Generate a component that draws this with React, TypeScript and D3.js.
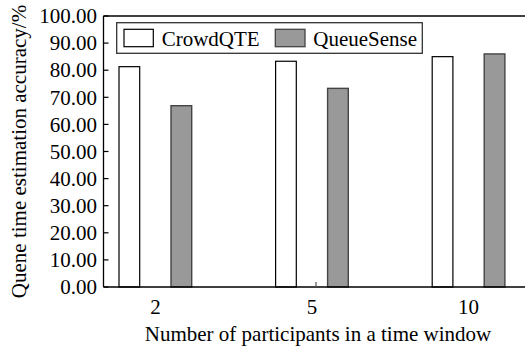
import React from "react";
import * as d3 from "d3";

const categories = ["2", "5", "10"];
const crowdQTE = [81.3, 83.3, 85.0];
const queueSense = [66.9, 73.3, 86.0];
const yTicks = [0, 10, 20, 30, 40, 50, 60, 70, 80, 90, 100];

const W = 525;
const H = 347;
const FONT = "'Liberation Serif', 'Times New Roman', serif";

export default function App() {
  const left = 103.5;
  const top = 16;
  const bottom = 287;

  const x = d3.scaleBand().domain(categories).range([77.1, 546.9]).paddingInner(0);
  const y = d3.scaleLinear().domain([0, 100]).range([bottom, top]);
  const barW = 20.7;
  const cx = (c: string) => (x(c) as number) + x.bandwidth() / 2;

  return (
    <svg
      width={W}
      height={H}
      style={{ position: "absolute", left: 0, top: 0, background: "#fff" }}
      fontFamily={FONT}
    >
      {/* bars */}
      {categories.map((c, i) => (
        <g key={c}>
          <rect
            x={cx(c) - 36.4}
            y={y(crowdQTE[i])}
            width={barW}
            height={bottom - y(crowdQTE[i])}
            fill="#fff"
            stroke="#000"
            strokeWidth={1.2}
          />
          <rect
            x={cx(c) + 15.6}
            y={y(queueSense[i])}
            width={barW}
            height={bottom - y(queueSense[i])}
            fill="#999"
            stroke="#444"
            strokeWidth={1.4}
          />
        </g>
      ))}

      {/* frame */}
      <line x1={left} x2={W + 5} y1={top} y2={top} stroke="#000" strokeWidth={1.3} />
      <line x1={left} x2={W + 5} y1={bottom} y2={bottom} stroke="#000" strokeWidth={1.3} />
      <line x1={left} x2={left} y1={top} y2={bottom} stroke="#000" strokeWidth={1.3} />

      {/* y ticks */}
      {yTicks.map((t) => (
        <g key={t}>
          <line x1={left} x2={left + 5} y1={y(t)} y2={y(t)} stroke="#000" strokeWidth={1.2} />
          <text x={97} y={y(t) + 7.2} textAnchor="end" fontSize={21}>
            {t.toFixed(2)}
          </text>
        </g>
      ))}

      {/* x tick (only middle one visible in source) */}
      <line x1={316} x2={316} y1={bottom} y2={bottom - 5} stroke="#555" strokeWidth={1.2} />

      {categories.map((c) => (
        <text key={c} x={cx(c)} y={314} textAnchor="middle" fontSize={21}>
          {c}
        </text>
      ))}

      {/* axis titles */}
      <text x={318} y={340.5} textAnchor="middle" fontSize={21}>
        Number of participants in a time window
      </text>
      <text
        transform={`translate(25.5,${(top + bottom) / 2}) rotate(-90)`}
        textAnchor="middle"
        fontSize={21}
      >
        Quene time estimation accuracy/%
      </text>

      {/* legend */}
      <rect x={116.7} y={22.7} width={305.6} height={30.6} fill="#fff" stroke="#333" strokeWidth={1.3} />
      <rect x={124} y={29.3} width={29.3} height={17.4} fill="#fff" stroke="#000" strokeWidth={1.2} />
      <text x={161.7} y={45.5} fontSize={21}>
        CrowdQTE
      </text>
      <rect x={275.3} y={29.3} width={29.7} height={17.4} fill="#999" stroke="#444" strokeWidth={1.3} />
      <text x={313.3} y={45.5} fontSize={21}>
        QueueSense
      </text>
    </svg>
  );
}
